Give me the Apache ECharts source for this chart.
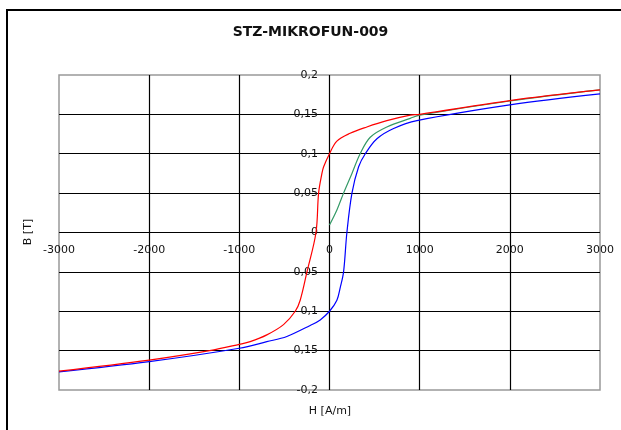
<!DOCTYPE html>
<html>
<head>
<meta charset="utf-8">
<script src="https://cdn.jsdelivr.net/npm/echarts@6/dist/echarts.min.js"></script>
<style>
  html, body { margin: 0; padding: 0; background: #fff; }
  #chart { width: 621px; height: 430px; }
</style>
</head>
<body>
<div id="chart"></div>
<script>
// H [A/m] / B [T]
const redH = [3000, 2000, 1000, 896, 636, 414, 229, 82, 0, -65, -84, -121, -150, -250, -325, -380, -510, -695, -880, -1000, -1330, -2000, -3000]
const redB = [0.181, 0.1675, 0.15, 0.149, 0.142, 0.134, 0.126, 0.116, 0.1, 0.0835, 0.075, 0.05, 0, -0.05, -0.086, -0.1, -0.117, -0.13, -0.1386, -0.142, -0.15, -0.162, -0.176]

const greenH = [0, 82, 156, 249, 340, 452, 636, 896, 1000, 2000, 3000]
const greenB = [0.0095, 0.0286, 0.05, 0.075, 0.1, 0.121, 0.134, 0.145, 0.149, 0.167, 0.181]

const blueH = [-3000, -2000, -1000, -695, -473, -214, -103, 0, 82, 119, 156, 193, 249, 323, 397, 526, 711, 970, 2000, 3000]
const blueB = [-0.177, -0.164, -0.147, -0.1386, -0.132, -0.118, -0.111, -0.1, -0.086, -0.07, -0.05, 0, 0.05, 0.0835, 0.1, 0.119, 0.132, 0.142, 0.162, 0.176]

const xTicks = { min: -3000, max: 3000, step: 1000 }
const yTicks = { min: -0.2, max: 0.2, step: 0.05 }

function pairs(xs, ys) {
  return xs.map((x, i) => [x, ys[i]])
}

const font = 'DejaVu Sans'
const myChart = echarts.init(document.getElementById('chart'))

// labels sit on the zero lines (axes cross at 0,0), so they are pulled in with a negative margin
let option = {
  animation: false,
  backgroundColor: '#fff',
  title: {
    text: 'STZ-MIKROFUN-009',
    left: 'center',
    top: 20,
    textStyle: { fontFamily: font, fontSize: 14, fontWeight: 'bold', color: '#111' }
  },
  grid: {
    left: 59,
    right: 21,
    top: 75,
    bottom: 40,
    show: true,
    borderColor: '#999',
    borderWidth: 1.5
  },
  xAxis: {
    type: 'value',
    min: xTicks.min,
    max: xTicks.max,
    interval: xTicks.step,
    axisLine: { show: false, onZero: false },
    axisTick: { show: false },
    axisLabel: {
      margin: -145,
      fontFamily: font,
      fontSize: 11,
      color: '#111',
      formatter: v => String(v)
    },
    splitLine: { show: true, showMinLine: false, showMaxLine: false, lineStyle: { color: '#000', width: 1.2 } }
  },
  yAxis: {
    type: 'value',
    min: yTicks.min,
    max: yTicks.max,
    interval: yTicks.step,
    axisLine: { show: false, onZero: false },
    axisTick: { show: false },
    axisLabel: {
      margin: -259,
      fontFamily: font,
      fontSize: 11,
      color: '#111',
      formatter: v => String(v).replace('.', ',')
    },
    splitLine: { show: true, showMinLine: false, showMaxLine: false, lineStyle: { color: '#000', width: 1.2 } }
  },
  graphic: [
    {
      // outer chart frame
      type: 'rect',
      shape: { x: 7, y: 10, width: 700, height: 500 },
      style: { fill: 'none', stroke: '#000', lineWidth: 2 },
      silent: true
    },
    {
      type: 'text',
      x: 28,
      y: 232,
      rotation: Math.PI / 2,
      style: { text: 'B [T]', fontFamily: font, fontSize: 11, fill: '#111', align: 'center', verticalAlign: 'middle' }
    },
    {
      type: 'text',
      x: 330,
      y: 411,
      style: { text: 'H [A/m]', fontFamily: font, fontSize: 11, fill: '#111', align: 'center', verticalAlign: 'middle' }
    }
  ],
  series: [
    {
      name: 'green',
      type: 'line',
      symbol: 'none',
      smooth: 0.35,
      lineStyle: { color: '#339966', width: 1.2 },
      data: pairs(greenH, greenB)
    },
    {
      name: 'blue',
      type: 'line',
      symbol: 'none',
      smooth: 0.35,
      lineStyle: { color: '#0000ff', width: 1.2 },
      data: pairs(blueH, blueB)
    },
    {
      name: 'red',
      type: 'line',
      symbol: 'none',
      smooth: 0.35,
      lineStyle: { color: '#ff0000', width: 1.2 },
      data: pairs(redH, redB)
    }
  ]
}

myChart.setOption(option)
</script>
</body>
</html>
